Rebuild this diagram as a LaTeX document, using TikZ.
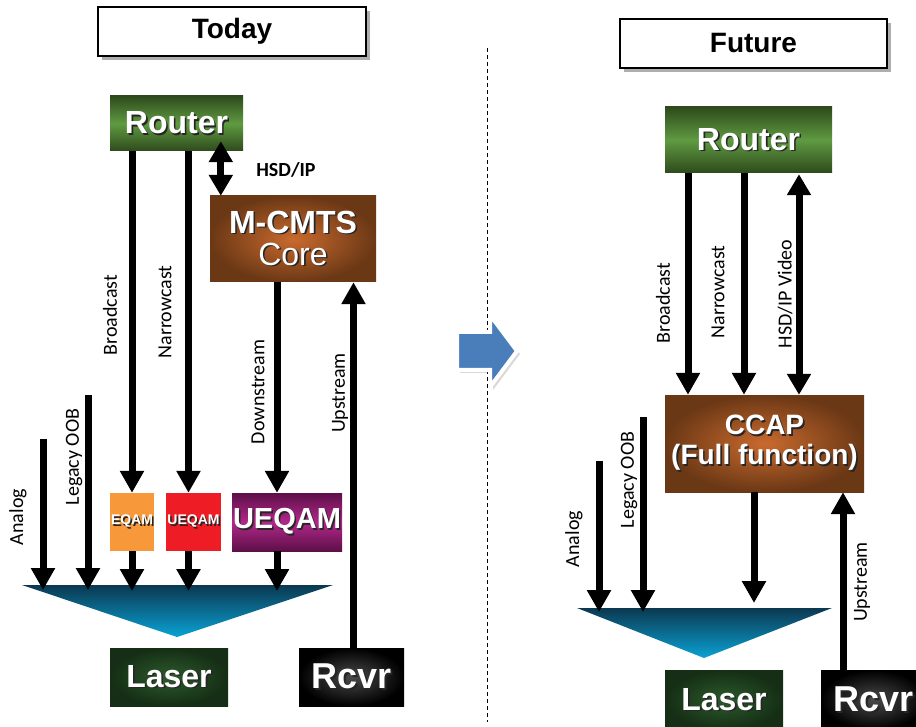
\documentclass[tikz,border=0pt]{standalone}
\usepackage{fontspec}
\setmainfont{Liberation Sans}
\newfontfamily\lblfont{Carlito}
\usetikzlibrary{arrows.meta,shadows,calc}
\definecolor{rtD}{HTML}{2E4A1C}
\definecolor{rtL}{HTML}{5F9A41}
\definecolor{brO}{HTML}{C96A2E}
\definecolor{brD}{HTML}{6B3815}
\definecolor{lzI}{HTML}{2C5A2C}
\definecolor{lzO}{HTML}{152E15}
\definecolor{rcI}{HTML}{4A4A4A}
\definecolor{rcO}{HTML}{000000}
\definecolor{eqO}{HTML}{F7993B}
\definecolor{ueR}{HTML}{EE1D25}
\definecolor{puL}{HTML}{B0288A}
\definecolor{puD}{HTML}{5E0F48}
\definecolor{triT}{HTML}{0B3850}
\definecolor{triB}{HTML}{0AA2D4}
\definecolor{bluA}{HTML}{4A7EBB}
\newcommand\shd[1]{\makebox[0pt][l]{\kern1.6pt\raisebox{-1.6pt}{\textcolor{black!85}{#1}}}#1}
\begin{document}
\begin{tikzpicture}[x=1pt,y=-1pt,
  titlebox/.style={draw=black, line width=2pt, fill=white, inner sep=0pt,
    drop shadow={shadow xshift=4pt, shadow yshift=-4pt, opacity=0.45, fill=black!70},
    font=\bfseries\fontsize{28}{28}\selectfont},
  cbox/.style={inner sep=0pt, text=white, align=center},
  routerbox/.style={cbox, shade, top color=rtD, bottom color=rtD, middle color=rtL,
    font=\bfseries\fontsize{32}{32}\selectfont},
  brownbox/.style={cbox, shade, inner color=brO, outer color=brD},
  laserbox/.style={cbox, shade, inner color=lzI, outer color=lzO,
    font=\bfseries\fontsize{32}{32}\selectfont},
  rcvrbox/.style={cbox, shade, inner color=rcI, outer color=rcO,
    font=\bfseries\fontsize{36}{36}\selectfont},
  lbl/.style={font=\lblfont\fontsize{20}{20}\selectfont, inner sep=0pt, rotate=90},
  arr/.style={line width=7pt, -{Triangle[width=23pt,length=22pt]}},
  dbl/.style={line width=7pt, {Triangle[width=23pt,length=21pt]}-{Triangle[width=23pt,length=21pt]}}
]
\useasboundingbox (0,0) rectangle (916,727);

% ---------- divider and transition arrow ----------
\coordinate (dvT) at (487,48);
\coordinate (dvB) at (487,722);
\draw[dashed, line width=0.8pt, dash pattern=on 4pt off 3pt] (dvT) -- (dvB);
\fill[bluA, draw=white, line width=4pt, line join=miter,
  drop shadow={shadow xshift=3pt, shadow yshift=-3pt, opacity=0.3}]
  (457,332) -- (490,332) -- (490,315) -- (517,351) -- (490,387) -- (490,370) -- (457,370) -- cycle;

% ================= TODAY =================
\node[titlebox, minimum width=268pt, minimum height=49pt] (today) at (232,31.5) {Today};
\node[routerbox, minimum width=133pt, minimum height=55pt] (routerL) at (176.5,123.5) {\shd{Router}};
\node[brownbox, minimum width=166pt, minimum height=86pt,
  font=\fontsize{32}{32}\selectfont] (mcmts) at (293,239)
  {{\bfseries\shd{M-CMTS}}\\\shd{Core}};
\node[cbox, fill=eqO, minimum width=44pt, minimum height=58pt,
  font=\bfseries\fontsize{14}{14}\selectfont] (eqam) at (132,522) {\shd{EQAM}};
\node[cbox, fill=ueR, minimum width=55pt, minimum height=58pt,
  font=\bfseries\fontsize{14}{14}\selectfont] (ueqamS) at (193.5,522) {\shd{UEQAM}};
\node[cbox, shade, top color=puD, bottom color=puD, middle color=puL,
  minimum width=110pt, minimum height=58pt,
  font=\bfseries\fontsize{29}{29}\selectfont] (ueqamB) at (287,522) {\shd{UEQAM}};
\node[laserbox, minimum width=118pt, minimum height=58pt] (laserL) at (169,677) {\shd{Laser}};
\node[rcvrbox, minimum width=105pt, minimum height=58pt] (rcvrL) at (351.5,677) {\shd{Rcvr}};

% combiner triangle
\coordinate (tlA) at (22,585);
\coordinate (tlB) at (333,585);
\coordinate (tlC) at (177,637);
\shade[top color=triT, bottom color=triB] (tlA) -- (tlB) -- (tlC) -- cycle;

% free ends
\coordinate (anTopL) at (43,439);
\coordinate (lgTopL) at (88,395);

% connectors
\draw[arr] (eqam.north |- routerL.south) -- (eqam.north);
\draw[arr] ([xshift=-5pt]ueqamS.north |- routerL.south) -- ([xshift=-5pt]ueqamS.north);
\draw[dbl] ([xshift=11pt,yshift=10pt]mcmts.north west |- routerL.south) -- ([xshift=11pt]mcmts.north west);
\draw[arr] ([xshift=-10pt]ueqamB.north |- mcmts.south) -- ([xshift=-10pt]ueqamB.north);
\draw[arr] ([xshift=2pt]rcvrL.north) -- ([xshift=2pt]rcvrL.north |- mcmts.south);
\draw[arr] (anTopL) -- ([yshift=-5pt]anTopL |- tlA);
\draw[arr] (lgTopL) -- ([yshift=-5pt]lgTopL |- tlA);
\draw[arr] (eqam.south) -- ([yshift=-6pt]eqam.south |- tlA);
\draw[arr] ([xshift=-5pt]ueqamS.south) -- ([xshift=-5pt,yshift=-6pt]ueqamS.south |- tlA);
\draw[arr] ([xshift=-10pt]ueqamB.south) -- ([xshift=-10pt,yshift=-6pt]ueqamB.south |- tlA);

% labels
\node[font=\lblfont\bfseries\fontsize{20}{20}\selectfont, inner sep=0pt] (hsdL) at (286,170) {HSD/IP};
\node[lbl] (bcL) at (110,315) {Broadcast};
\node[lbl] (ncL) at (165,312) {Narrowcast};
\node[lbl] (dsL) at (258,392) {Downstream};
\node[lbl] (usL) at (340,393) {Upstream};
\node[lbl] (anL) at (18,517) {Analog};
\node[lbl] (lgL) at (74,457) {Legacy OOB};

% ================= FUTURE =================
\node[titlebox, minimum width=267pt, minimum height=49pt] (future) at (753.5,43.5) {Future};
\node[routerbox, minimum width=167pt, minimum height=66pt] (routerR) at (748.5,140) {\shd{Router}};
\node[brownbox, minimum width=199pt, minimum height=97pt,
  font=\bfseries\fontsize{28}{30}\selectfont] (ccap) at (764.5,443.5)
  {\shd{CCAP}\\\shd{(Full function)}};
\node[laserbox, minimum width=118pt, minimum height=60pt] (laserR) at (724,700) {\shd{Laser}};
\node[rcvrbox, minimum width=105pt, minimum height=60pt] (rcvrR) at (873.5,700) {\shd{Rcvr}};

\coordinate (trA) at (577,608);
\coordinate (trB) at (832,608);
\coordinate (trC) at (704,658);
\shade[top color=triT, bottom color=triB] (trA) -- (trB) -- (trC) -- cycle;

\coordinate (anTopR) at (599,461);
\coordinate (lgTopR) at (643,417);

\draw[arr] ([xshift=-76.5pt]ccap.north |- routerR.south) -- ([xshift=-76.5pt]ccap.north);
\draw[arr] ([xshift=-20.5pt]ccap.north |- routerR.south) -- ([xshift=-20.5pt]ccap.north);
\draw[dbl] ([xshift=34.5pt,yshift=-1pt]ccap.north |- routerR.south) -- ([xshift=34.5pt]ccap.north);
\draw[arr] ([xshift=-10.5pt]ccap.south) -- ([xshift=-10.5pt,yshift=5pt]ccap.south |- trA);
\draw[arr] ([xshift=-30.5pt]rcvrR.north) -- ([xshift=-30.5pt]rcvrR.north |- ccap.south);
\draw[arr] (anTopR) -- ([yshift=-4pt]anTopR |- trA);
\draw[arr] (lgTopR) -- ([yshift=-4pt]lgTopR |- trA);

\node[lbl] (bcR) at (663,303) {Broadcast};
\node[lbl] (ncR) at (718,292) {Narrowcast};
\node[lbl] (hsdR) at (785,294) {HSD/IP Video};
\node[lbl] (anR) at (574,539) {Analog};
\node[lbl] (lgR) at (629,480) {Legacy OOB};
\node[lbl] (usR) at (862,582) {Upstream};
\end{tikzpicture}
\end{document}
